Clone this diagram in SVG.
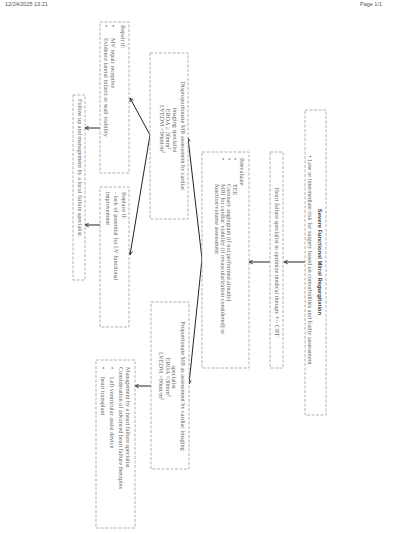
<svg xmlns="http://www.w3.org/2000/svg" width="400" height="534" viewBox="0 0 400 534">
<defs>
<style>
.bx{fill:#fff;stroke:#a0a0a0;stroke-width:0.8;stroke-dasharray:3 1.5}
.t{font-family:"Liberation Serif","Times New Roman",serif;font-size:6.2px;fill:#666}
.b{font-family:"Liberation Sans",Arial,sans-serif;font-size:5.8px;font-weight:bold;fill:#444}
.m{text-anchor:middle}
.hd{font-family:"Liberation Sans",Arial,sans-serif;font-size:5.5px;fill:#555}
.c{fill:none;stroke:#222;stroke-width:1;marker-end:url(#ah)}
</style>
<marker id="ah" viewBox="0 0 8 8" refX="7" refY="4" markerWidth="5" markerHeight="5" orient="auto" markerUnits="userSpaceOnUse">
<path d="M1,1 L7,4 L1,7" fill="none" stroke="#222" stroke-width="1.3"/>
</marker>
</defs>
<rect width="400" height="534" fill="#fff"/>
<text class="hd" x="5" y="6">12/24/2025 13:21</text>
<text class="hd" x="360" y="6">Page 1/1</text>

<g id="connectors">
<path class="c" d="M305,262 L284,262"/>
<path class="c" d="M270,262 L249,262"/>
<path class="c" d="M202,259 L188,138"/>
<path class="c" d="M202,259 L189,384"/>
<path class="c" d="M150,135 L130,98"/>
<path class="c" d="M150,135 L130,255"/>
<path class="c" d="M100,128 L85,128"/>
<path class="c" d="M100,225 L85,225"/>
<path class="c" d="M151,386 L135,386"/>
</g>

<g id="n-severe">
<rect class="bx" x="305" y="110" width="21" height="305"/>
<text class="b m" transform="translate(318,262) rotate(90)">Severe Functional Mitral Regurgitation</text>
<text class="t m" transform="translate(308,260) rotate(90)">• Low or intermediate risk for surgery based on comorbidities and frailty assessment</text>
</g>

<g id="n-hf">
<rect class="bx" x="270" y="152" width="13" height="216"/>
<text class="t m" transform="translate(275,262) rotate(90)">Heart failure specialist to optimize medical therapy +/- CRT</text>
</g>

<g id="n-reevaluate">
<rect class="bx" x="202" y="152" width="47" height="216"/>
<text class="t" transform="translate(240,158) rotate(90)">Reevaluate</text>
<text class="t" transform="translate(233,158) rotate(90)">•</text>
<text class="t" transform="translate(233,184) rotate(90)">TEE</text>
<text class="t" transform="translate(227,158) rotate(90)">•</text>
<text class="t" transform="translate(227,184) rotate(90)">Coronary angiogram (if not performed already)</text>
<text class="t" transform="translate(221,158) rotate(90)">•</text>
<text class="t" transform="translate(221,184) rotate(90)">MRI for cardiac viability (if revascularization considered) or</text>
<text class="t" transform="translate(215,184) rotate(90)">function/volume assessment</text>
</g>

<g id="n-disproportionate">
<rect class="bx" x="150" y="53" width="38" height="166"/>
<text class="t m" transform="translate(181,136) rotate(90)">Disproportionate MR assessment by cardiac</text>
<text class="t m" transform="translate(173,130) rotate(90)">imaging specialist</text>
<text class="t m" transform="translate(166,129) rotate(90)">EROA ≥ 30mm²</text>
<text class="t m" transform="translate(160,129) rotate(90)">LVEDVi &lt;96ml/m²</text>
</g>

<g id="n-proportionate">
<rect class="bx" x="151" y="302" width="38" height="167"/>
<text class="t m" transform="translate(181,386) rotate(90)">Proportionate MR as assessment by cardiac imaging</text>
<text class="t m" transform="translate(172,377) rotate(90)">specialist</text>
<text class="t m" transform="translate(166,377) rotate(90)">EROA &lt;30mm²</text>
<text class="t m" transform="translate(159,376) rotate(90)">LVEDVi &gt;96ml/m²</text>
</g>

<g id="n-repair">
<rect class="bx" x="100" y="22" width="29" height="151"/>
<text class="t" transform="translate(121,25) rotate(90)">Repair if:</text>
<text class="t" transform="translate(111,25) rotate(90)">•</text>
<text class="t" transform="translate(111,38) rotate(90)">MV repair receptive</text>
<text class="t" transform="translate(104,25) rotate(90)">•</text>
<text class="t" transform="translate(104,38) rotate(90)">Evidence lateral infarct or wall viability</text>
</g>

<g id="n-replace">
<rect class="bx" x="100" y="187" width="29" height="140"/>
<text class="t" transform="translate(122,192) rotate(90)">Replace if:</text>
<text class="t" transform="translate(114,192) rotate(90)">- lack of potential for LV functional</text>
<text class="t" transform="translate(106,192) rotate(90)">improvement</text>
</g>

<g id="n-followup">
<rect class="bx" x="73" y="95" width="12" height="185"/>
<text class="t" transform="translate(78,99) rotate(90)">Follow up and management by a local failure specialist.</text>
</g>

<g id="n-management">
<rect class="bx" x="96" y="360" width="39" height="168"/>
<text class="t" transform="translate(126,367) rotate(90)">Management by a heart failure specialist</text>
<text class="t" transform="translate(119,367) rotate(90)">Consideration of advanced heart failure therapies</text>
<text class="t" transform="translate(110,367) rotate(90)">•</text>
<text class="t" transform="translate(110,377) rotate(90)">Left ventricular assist device</text>
<text class="t" transform="translate(101,367) rotate(90)">•</text>
<text class="t" transform="translate(101,377) rotate(90)">heart transplant</text>
</g>
</svg>
